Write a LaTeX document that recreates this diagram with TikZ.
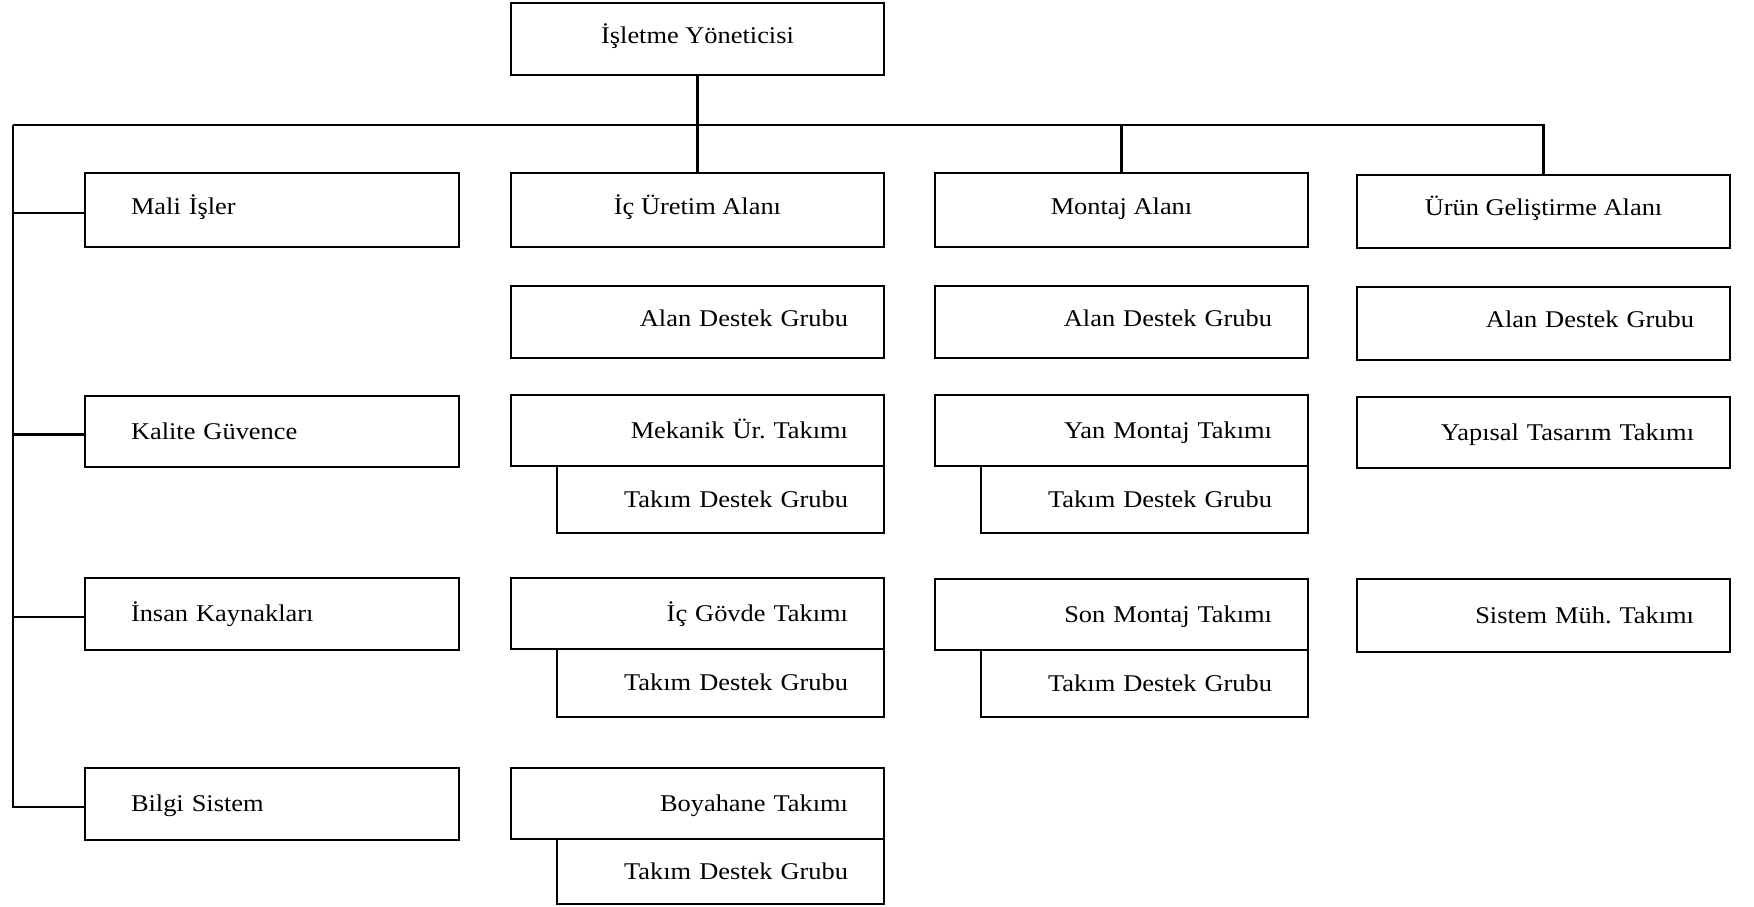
\documentclass[tikz,border=0pt]{standalone}
\usepackage{fontspec}
\setmainfont{Liberation Serif}[FakeStretch=1.1]
\begin{document}
\begin{tikzpicture}[x=0.5pt,y=-0.5pt,line width=1.1pt,
  box/.style={draw,line width=1.1pt,inner sep=0pt,
    font=\fontsize{12}{14}\selectfont,text height=9.5pt,text depth=5.5pt},
  low/.style={text height=13pt},
  lefttext/.style={text width=\twl pt,align=left},
  righttext/.style={text width=\twr pt,align=right},
  midtext/.style={align=center}]
\useasboundingbox (0,0) rectangle (1754,906);
% \orgbox{name}{x1}{y1}{x2}{y2}{text style}{text}, corners in pixels
\newcommand\orgbox[7]{%
  \pgfmathsetmacro\bw{(#4-#2)*0.5}%
  \pgfmathsetmacro\bh{(#5-#3)*0.5}%
  \pgfmathsetmacro\bcx{(#2+#4)/2}%
  \pgfmathsetmacro\bcy{(#3+#5)/2}%
  \pgfmathsetmacro\twl{\bw-46}%
  \pgfmathsetmacro\twr{\bw-36}%
  \node[box,#6,minimum width=\bw pt,minimum height=\bh pt] (#1) at (\bcx,\bcy) {#7};}

% head
\orgbox{head}{511}{3}{884}{75}{midtext}{İşletme Yöneticisi}
% staff units
\orgbox{mali}{85}{173}{459}{247}{lefttext}{Mali İşler}
\orgbox{kalite}{85}{396}{459}{467}{lefttext,low}{Kalite Güvence}
\orgbox{insan}{85}{578}{459}{650}{lefttext,low}{İnsan Kaynakları}
\orgbox{bilgi}{85}{768}{459}{840}{lefttext,low}{Bilgi Sistem}
% internal production
\orgbox{icuretim}{511}{173}{884}{247}{midtext}{İç Üretim Alanı}
\orgbox{alanA}{511}{286}{884}{358}{righttext}{Alan Destek Grubu}
\orgbox{mekanik}{511}{395}{884}{466}{righttext,low}{Mekanik Ür.\ Takımı}
\orgbox{takimA}{557}{466}{884}{533}{righttext,low}{Takım Destek Grubu}
\orgbox{govde}{511}{578}{884}{649}{righttext,low}{İç Gövde Takımı}
\orgbox{takimB}{557}{649}{884}{717}{righttext,low}{Takım Destek Grubu}
\orgbox{boya}{511}{768}{884}{839}{righttext,low}{Boyahane Takımı}
\orgbox{takimC}{557}{839}{884}{904}{righttext,low}{Takım Destek Grubu}
% assembly
\orgbox{montaj}{935}{173}{1308}{247}{midtext}{Montaj Alanı}
\orgbox{alanB}{935}{286}{1308}{358}{righttext}{Alan Destek Grubu}
\orgbox{yan}{935}{395}{1308}{466}{righttext,low}{Yan Montaj Takımı}
\orgbox{takimD}{981}{466}{1308}{533}{righttext,low}{Takım Destek Grubu}
\orgbox{son}{935}{579}{1308}{650}{righttext,low}{Son Montaj Takımı}
\orgbox{takimE}{981}{650}{1308}{717}{righttext,low}{Takım Destek Grubu}
% product development
\orgbox{urun}{1357}{175}{1730}{248}{midtext}{Ürün Geliştirme Alanı}
\orgbox{alanC}{1357}{287}{1730}{360}{righttext}{Alan Destek Grubu}
\orgbox{yapisal}{1357}{397}{1730}{468}{righttext,low}{Yapısal Tasarım Takımı}
\orgbox{sistem}{1357}{579}{1730}{652}{righttext,low}{Sistem Müh.\ Takımı}

% connectors
\coordinate (busL) at (13,125);
\coordinate (maliW) at ([yshift=-1.5pt]mali.west);
\coordinate (kaliteW) at ([yshift=-1.5pt]kalite.west);
\coordinate (insanW) at ([yshift=-1.5pt]insan.west);
\coordinate (bilgiW) at ([yshift=-1.5pt]bilgi.west);
\draw (head.south) -- (icuretim.north);
\draw (busL) -- (busL -| urun.north) -- (urun.north);
\draw (busL -| montaj.north) -- (montaj.north);
\draw (busL) |- (bilgiW);
\draw (busL |- maliW) -- (maliW);
\draw (busL |- kaliteW) -- (kaliteW);
\draw (busL |- insanW) -- (insanW);
\end{tikzpicture}
\end{document}
